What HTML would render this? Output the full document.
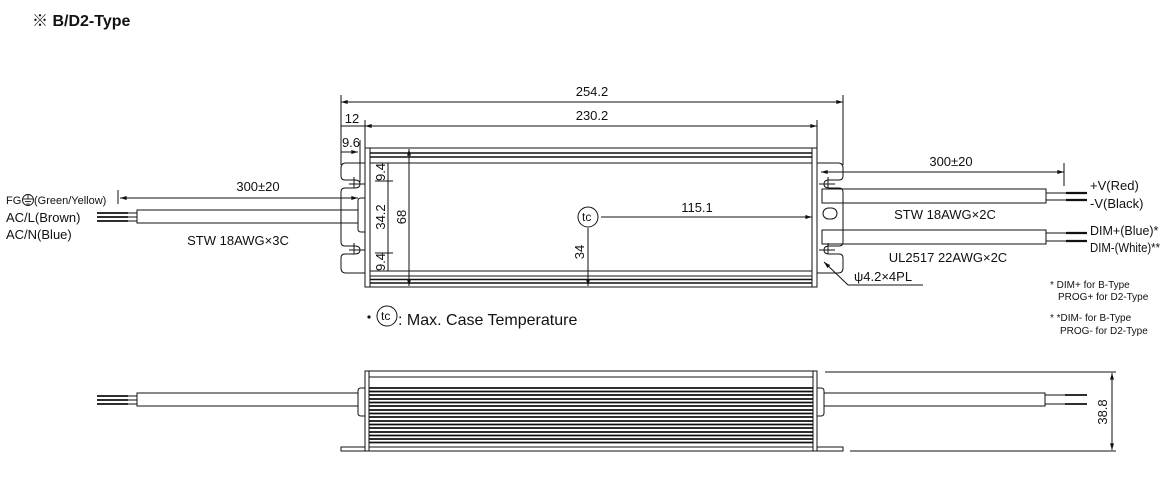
<!DOCTYPE html>
<html><head><meta charset="utf-8"><style>
html,body{margin:0;padding:0;background:#fff;}
svg{display:block;font-family:"Liberation Sans",sans-serif;}
text{fill:#111;}
.cj{font-family:"Liberation Sans","Noto Sans CJK JP",sans-serif;}
</style></head><body>
<svg width="1162" height="487" viewBox="0 0 1162 487" xmlns="http://www.w3.org/2000/svg">
<defs>
<marker id="a" viewBox="0 0 10 6" refX="10" refY="3" markerWidth="8" markerHeight="4" orient="auto-start-reverse"><path d="M0,0 L10,3 L0,6 z" fill="#111"/></marker>
</defs>
<text x="32" y="26" font-size="16" font-weight="bold" class="cj">※ B/D2-Type</text>

<g stroke="#111" stroke-width="1" fill="none">
<line x1="341" y1="95" x2="341" y2="165"/>
<line x1="843" y1="95" x2="843" y2="165"/>
<line x1="341" y1="102" x2="843" y2="102" marker-start="url(#a)" marker-end="url(#a)"/>
<line x1="365" y1="120" x2="365" y2="148"/>
<line x1="817" y1="120" x2="817" y2="148"/>
<line x1="365" y1="126" x2="817" y2="126" marker-start="url(#a)" marker-end="url(#a)"/>
<line x1="341" y1="126" x2="365" y2="126"/>
<line x1="360" y1="140" x2="360" y2="182"/>
<line x1="341" y1="152" x2="358" y2="152" marker-end="url(#a)"/>

<rect x="365" y="148" width="452" height="139"/>
<line x1="370" y1="148" x2="370" y2="287"/>
<line x1="812" y1="148" x2="812" y2="287"/>
<line x1="370" y1="153" x2="812" y2="153" stroke-width="1.6"/>
<line x1="370" y1="157" x2="812" y2="157" stroke-width="1.6"/>
<line x1="370" y1="163" x2="812" y2="163"/>
<line x1="370" y1="271" x2="812" y2="271"/>
<line x1="370" y1="276" x2="812" y2="276"/>
<line x1="370" y1="279.5" x2="812" y2="279.5" stroke-width="1.6"/>
<line x1="370" y1="283" x2="812" y2="283" stroke-width="1.6"/>

<path d="M365,163 H346 Q341,163 341,168 V176 Q341,180 345,180 H355 Q360,180 360,184 Q360,188 355,188 H345 Q341,188 341,192 V242 Q341,246 345,246 H355 Q360,246 360,250 Q360,254 355,254 H345 Q341,254 341,258 V268 Q341,273 346,273 H365"/>
<line x1="349" y1="184" x2="365" y2="184"/><line x1="354" y1="177" x2="354" y2="188"/>
<line x1="349" y1="250" x2="365" y2="250"/><line x1="354" y1="243" x2="354" y2="254"/>
<path d="M365,198 H361 Q358,198 358,201 V229 Q358,232 361,232 H365"/>

<path d="M817,163 H838 Q843,163 843,168 V176 Q843,180 839,180 H829 Q824,180 824,184 Q824,188 829,188 H839 Q843,188 843,192 V242 Q843,246 839,246 H829 Q824,246 824,250 Q824,254 829,254 H839 Q843,254 843,258 V268 Q843,273 838,273 H817"/>
<line x1="819" y1="184" x2="835" y2="184"/><line x1="828" y1="177" x2="828" y2="188"/>
<line x1="819" y1="250" x2="835" y2="250"/><line x1="828" y1="243" x2="828" y2="254"/>
<rect x="823" y="208" width="14" height="11" rx="5.5"/>
<line x1="817" y1="176" x2="817" y2="262"/>

<line x1="375" y1="163" x2="393" y2="163"/>
<line x1="375" y1="181" x2="393" y2="181"/>
<line x1="375" y1="253" x2="393" y2="253"/>
<line x1="375" y1="271" x2="393" y2="271"/>
<line x1="388" y1="163" x2="388" y2="271"/>
<line x1="409" y1="149" x2="409" y2="286" marker-start="url(#a)" marker-end="url(#a)"/>

<circle cx="588" cy="217" r="10"/>
<line x1="601" y1="217" x2="812" y2="217" marker-end="url(#a)"/>
<line x1="588" y1="228" x2="588" y2="286" marker-end="url(#a)"/>

<line x1="118" y1="190" x2="118" y2="204"/>
<line x1="120" y1="198" x2="358" y2="198" marker-start="url(#a)" marker-end="url(#a)"/>
<rect x="137" y="210" width="221" height="13"/>
</g>
<g stroke="#111" stroke-width="1.8">
<line x1="97" y1="213" x2="128" y2="213"/><line x1="97" y1="217" x2="128" y2="217"/><line x1="97" y1="221" x2="128" y2="221"/>
</g>
<g stroke="#111" stroke-width="1" fill="none">
<line x1="128" y1="213" x2="137" y2="213"/><line x1="128" y1="217" x2="137" y2="217"/><line x1="128" y1="221" x2="137" y2="221"/>

<line x1="1064" y1="163" x2="1064" y2="186"/>
<line x1="821" y1="172" x2="1064" y2="172" marker-start="url(#a)" marker-end="url(#a)"/>
<rect x="822" y="189" width="224" height="14"/>
<rect x="822" y="230" width="224" height="14"/>
<line x1="1046" y1="193" x2="1066" y2="193"/><line x1="1046" y1="200" x2="1066" y2="200"/>
<line x1="1046" y1="233" x2="1066" y2="233"/><line x1="1046" y1="241" x2="1066" y2="241"/>
<path d="M848,285 H923"/>
<line x1="848" y1="285" x2="824" y2="262" marker-end="url(#a)"/>
</g>
<g stroke="#111" stroke-width="2.2">
<line x1="1066" y1="193" x2="1087" y2="193"/><line x1="1066" y1="200" x2="1087" y2="200"/>
<line x1="1066" y1="233" x2="1087" y2="233"/><line x1="1066" y1="241" x2="1087" y2="241"/>
</g>

<g font-size="13" text-anchor="middle" class="cj">
<text x="592" y="96">254.2</text>
<text x="592" y="120">230.2</text>
<text x="352" y="123">12</text>
<text x="351" y="147">9.6</text>
<text x="697" y="212">115.1</text>
<text x="258" y="191">300±20</text>
<text x="951" y="166">300±20</text>
<text x="238" y="245">STW 18AWG×3C</text>
<text x="945" y="219">STW 18AWG×2C</text>
<text x="948" y="262">UL2517 22AWG×2C</text>
</g>
<g font-size="13">
<text transform="translate(385,172) rotate(-90)" text-anchor="middle">9.4</text>
<text transform="translate(385,217) rotate(-90)" text-anchor="middle">34.2</text>
<text transform="translate(385,262) rotate(-90)" text-anchor="middle">9.4</text>
<text transform="translate(406,217) rotate(-90)" text-anchor="middle">68</text>
<text transform="translate(584,252) rotate(-90)" text-anchor="middle">34</text>
<text x="582" y="221" font-size="12">tc</text>
<text x="6" y="222">AC/L(Brown)</text>
<text x="6" y="239">AC/N(Blue)</text>
<text x="1090" y="190">+V(Red)</text>
<text x="1090" y="208">-V(Black)</text>
<text x="1090" y="235" font-size="12.5">DIM+(Blue)*</text>
<text x="1090" y="252" font-size="12.5" textLength="70" lengthAdjust="spacingAndGlyphs">DIM-(White)**</text>
<text x="854" y="281" class="cj">ψ4.2×4PL</text>
</g>
<text x="6" y="204" font-size="11">FG</text>
<circle cx="28" cy="200" r="5.5" fill="none" stroke="#111" stroke-width="0.9"/>
<g stroke="#111" stroke-width="0.9"><line x1="28" y1="195" x2="28" y2="199"/><line x1="23" y1="199" x2="33" y2="199"/><line x1="25" y1="201.5" x2="31" y2="201.5"/><line x1="26.5" y1="204" x2="29.5" y2="204"/></g>
<text x="34" y="204" font-size="11">(Green/Yellow)</text>
<g font-size="10">
<text x="1050" y="288">* DIM+ for B-Type</text>
<text x="1058" y="300">PROG+ for D2-Type</text>
<text x="1050" y="321">* *DIM- for B-Type</text>
<text x="1060" y="334">PROG- for D2-Type</text>
</g>

<circle cx="369" cy="317" r="1.6" fill="#111"/>
<circle cx="387" cy="316" r="10" fill="none" stroke="#111"/>
<text x="381" y="320" font-size="12">tc</text>
<text x="398" y="325" font-size="16">: Max. Case Temperature</text>

<g stroke="#111" stroke-width="1" fill="none">
<rect x="365" y="371" width="452" height="80"/>
<line x1="369" y1="371" x2="369" y2="451"/>
<line x1="813" y1="371" x2="813" y2="451"/>
<line x1="369" y1="377" x2="813" y2="377"/>
<line x1="369" y1="447" x2="813" y2="447"/>
<rect x="341" y="447" width="24" height="4"/>
<rect x="817" y="447" width="26" height="4"/>
<path d="M365,388 H361 Q358,388 358,391 V413 Q358,416 361,416 H365"/>
<path d="M817,388 H821 Q824,388 824,391 V413 Q824,416 821,416 H817"/>
<rect x="137" y="393" width="221" height="13"/>
<rect x="824" y="393" width="221" height="13"/>
<line x1="128" y1="396" x2="137" y2="396"/><line x1="128" y1="400" x2="137" y2="400"/><line x1="128" y1="404" x2="137" y2="404"/>
<line x1="1045" y1="395" x2="1065" y2="395"/><line x1="1045" y1="404" x2="1065" y2="404"/>
<line x1="825" y1="372" x2="1116" y2="372"/>
<line x1="850" y1="451" x2="1116" y2="451"/>
<line x1="1112" y1="373" x2="1112" y2="450" marker-start="url(#a)" marker-end="url(#a)"/>
</g>
<g stroke="#111" stroke-width="1.7">
<line x1="369" y1="388" x2="813" y2="388"/>
<line x1="369" y1="391.5" x2="813" y2="391.5"/>
<line x1="369" y1="395" x2="813" y2="395"/>
<line x1="369" y1="399" x2="813" y2="399"/>
<line x1="369" y1="402.5" x2="813" y2="402.5"/>
<line x1="369" y1="406" x2="813" y2="406"/>
<line x1="369" y1="410" x2="813" y2="410"/>
<line x1="369" y1="413.5" x2="813" y2="413.5"/>
<line x1="369" y1="417" x2="813" y2="417"/>
<line x1="369" y1="421" x2="813" y2="421"/>
<line x1="369" y1="424.5" x2="813" y2="424.5"/>
<line x1="369" y1="428" x2="813" y2="428"/>
<line x1="369" y1="432" x2="813" y2="432"/>
<line x1="369" y1="435.5" x2="813" y2="435.5"/>
<line x1="369" y1="439" x2="813" y2="439"/>
<line x1="369" y1="442.5" x2="813" y2="442.5"/>
<line x1="97" y1="396" x2="128" y2="396"/><line x1="97" y1="400" x2="128" y2="400"/><line x1="97" y1="404" x2="128" y2="404"/>
<line x1="1065" y1="395" x2="1087" y2="395"/><line x1="1065" y1="404" x2="1087" y2="404"/>
</g>
<text transform="translate(1107,412) rotate(-90)" text-anchor="middle" font-size="13">38.8</text>
</svg>
</body></html>
